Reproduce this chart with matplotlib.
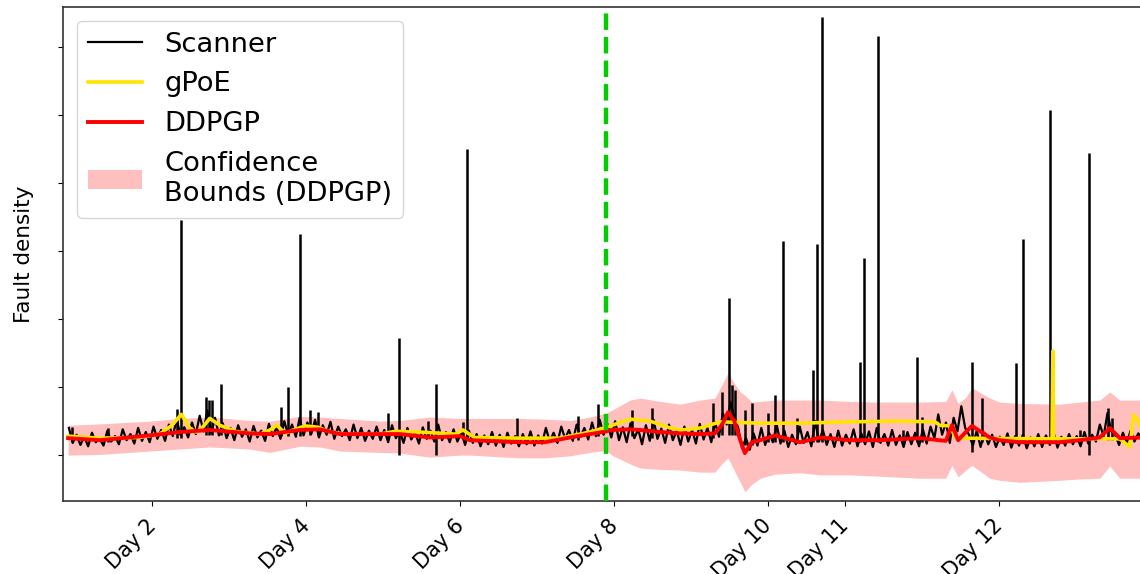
import numpy as np
import matplotlib
matplotlib.use('Agg')
import matplotlib.pyplot as plt
from matplotlib.transforms import ScaledTranslation

# 扫描仪原始读数（每天约20个采样点，从0.92天到14.86天）
scanner_vals = [
    0.40, 0.18, 0.30, 0.15, 0.27, 0.13, 0.33, 0.19, 0.24, 0.14, 0.36, 0.20, 0.28, 0.16, 0.38, 0.22, 0.31, 0.17, 0.40, 0.21,
    0.34, 0.19, 0.42, 0.24, 0.37, 0.21, 0.45, 0.28, 0.52, 0.30, 0.41, 0.26, 0.48, 0.31, 0.58, 0.35, 0.66, 0.33, 0.55, 0.29,
    0.47, 0.25, 0.40, 0.22, 0.44, 0.27, 0.38, 0.20, 0.43, 0.26, 0.36, 0.21, 0.46, 0.28, 0.41, 0.24, 0.50, 0.30, 0.45, 0.27,
    0.55, 0.29, 0.48, 0.31, 0.52, 0.26, 0.44, 0.30, 0.49, 0.24, 0.42, 0.28, 0.38, 0.22, 0.45, 0.25, 0.40, 0.21, 0.36, 0.24,
    0.42, 0.22, 0.37, 0.19, 0.44, 0.25, 0.35, 0.18, 0.40, 0.23, 0.33, 0.17, 0.41, 0.24, 0.36, 0.20, 0.45, 0.22, 0.34, 0.19,
    0.38, 0.20, 0.33, 0.15, 0.36, 0.18, 0.31, 0.13, 0.29, 0.16, 0.34, 0.14, 0.30, 0.12, 0.33, 0.17, 0.28, 0.13, 0.31, 0.16,
    0.35, 0.14, 0.29, 0.17, 0.40, 0.20, 0.33, 0.18, 0.42, 0.24, 0.37, 0.21, 0.45, 0.27, 0.40, 0.23, 0.48, 0.28, 0.52, 0.30,
    0.46, 0.26, 0.50, 0.22, 0.41, 0.19, 0.47, 0.25, 0.38, 0.16, 0.44, 0.21, 0.52, 0.24, 0.39, 0.18, 0.45, 0.22, 0.36, 0.15,
    0.42, 0.20, 0.37, 0.17, 0.46, 0.23, 0.40, 0.19, 0.48, 0.27, 0.62, 0.45, 0.78, 0.55, 0.40, 0.10, 0.25, 0.08, 0.32, 0.14,
    0.40, 0.15, 0.33, 0.19, 0.45, 0.17, 0.36, 0.12, 0.30, 0.16, 0.42, 0.18, 0.34, 0.13, 0.50, 0.20, 0.37, 0.15, 0.31, 0.12,
    0.36, 0.14, 0.30, 0.17, 0.38, 0.13, 0.32, 0.16, 0.35, 0.12, 0.40, 0.18, 0.31, 0.14, 0.37, 0.15, 0.29, 0.12, 0.34, 0.16,
    0.33, 0.13, 0.38, 0.17, 0.42, 0.25, 0.60, 0.30, 0.48, 0.18, 0.55, 0.35, 0.72, 0.40, 0.30, 0.14, 0.36, 0.12, 0.33, 0.16,
    0.30, 0.12, 0.27, 0.15, 0.32, 0.11, 0.28, 0.14, 0.30, 0.10, 0.26, 0.13, 0.31, 0.12, 0.29, 0.15, 0.33, 0.11, 0.27, 0.14,
    0.31, 0.16, 0.28, 0.13, 0.34, 0.17, 0.30, 0.20, 0.45, 0.28, 0.62, 0.35, 0.30, 0.15, 0.33, 0.18, 0.36, 0.20, 0.32, 0.24,
]
scanner_days = np.linspace(0.92, 14.86, len(scanner_vals))

# 扫描仪尖峰（时间、峰值、谷值）
spike_days = [0.96, 1.43, 2.32, 2.38, 2.70, 2.74, 2.78, 2.90, 3.68, 3.77, 3.92, 4.05, 4.16,
              5.06, 5.21, 5.58, 5.69, 6.04, 6.09, 6.74, 7.53, 7.79, 8.23, 8.49, 9.29, 9.40,
              9.49, 9.53, 9.57, 9.70, 9.79, 10.00, 10.09, 10.19, 10.38, 10.58, 10.64, 10.70,
              11.19, 11.25, 11.43, 11.75, 11.94, 12.00, 12.65, 12.78, 13.22, 13.31, 13.66,
              14.05, 14.17, 14.42, 14.47]
spike_tops = [0.41, 0.40, 0.68, 3.46, 0.85, 0.81, 0.81, 1.04, 0.71, 1.00, 3.26, 0.66, 0.63,
              0.62, 1.72, 0.50, 1.04, 0.49, 4.51, 0.54, 0.57, 0.75, 0.66, 0.69, 0.76, 0.93,
              2.31, 1.03, 0.96, 0.66, 0.76, 0.62, 0.88, 3.15, 0.54, 1.25, 3.10, 6.44,
              1.37, 2.90, 6.16, 0.37, 1.44, 0.56, 1.37, 0.84, 1.35, 3.18, 5.07,
              0.37, 4.44, 0.69, 0.54]
spike_lows = [0.20, 0.20, 0.25, 0.25, 0.30, 0.30, 0.30, 0.30, 0.28, 0.28, 0.28, 0.30, 0.30,
              0.25, 0.00, 0.25, 0.00, 0.25, 0.25, 0.18, 0.22, 0.28, 0.28, 0.25, 0.25, 0.30,
              0.30, 0.30, 0.30, 0.15, 0.15, 0.20, 0.20, 0.20, 0.18, 0.20, 0.20, 0.20,
              0.20, 0.20, 0.20, 0.20, 0.20, 0.20, 0.05, 0.20, 0.18, 0.18, 0.18,
              0.18, 0.00, 0.22, 0.22]

# DDPGP 均值及置信区间
ddpgp_days = [0.91, 1.32, 1.97, 2.36, 2.75, 3.27, 3.53, 3.92, 4.18, 4.44, 4.96, 5.22, 5.61,
              6.00, 6.13, 6.78, 7.10, 7.43, 7.69, 7.90, 7.97, 8.21, 8.34, 8.60, 8.86, 9.12,
              9.31, 9.40, 9.48, 9.56, 9.64, 9.70, 9.79, 9.90, 10.09, 10.42, 10.68, 11.06,
              11.45, 11.97, 12.31, 12.39, 12.47, 12.57, 12.65, 12.88, 13.01, 13.27, 13.79,
              14.05, 14.31, 14.44, 14.57, 14.90]
ddpgp_mean = [0.25, 0.22, 0.29, 0.34, 0.37, 0.32, 0.31, 0.37, 0.38, 0.31, 0.31, 0.31, 0.26,
              0.28, 0.22, 0.19, 0.19, 0.26, 0.31, 0.35, 0.37, 0.38, 0.37, 0.34, 0.32, 0.31,
              0.32, 0.44, 0.63, 0.51, 0.22, 0.03, 0.19, 0.22, 0.29, 0.19, 0.26, 0.22,
              0.22, 0.25, 0.21, 0.44, 0.22, 0.34, 0.43, 0.26, 0.22, 0.19, 0.19,
              0.22, 0.26, 0.40, 0.25, 0.26]
ddpgp_upper = [0.44, 0.46, 0.50, 0.54, 0.56, 0.51, 0.50, 0.57, 0.56, 0.54, 0.50, 0.51, 0.56,
               0.54, 0.54, 0.54, 0.53, 0.51, 0.56, 0.62, 0.66, 0.81, 0.84, 0.79, 0.75, 0.81,
               0.84, 1.03, 1.21, 1.06, 0.93, 0.88, 0.78, 0.79, 0.81, 0.81, 0.81, 0.79,
               0.78, 0.78, 0.79, 0.96, 0.76, 0.85, 0.99, 0.84, 0.78, 0.76, 0.75,
               0.78, 0.81, 0.93, 0.81, 0.81]
ddpgp_lower = [0.00, 0.01, 0.06, 0.09, 0.12, 0.09, 0.04, 0.13, 0.12, 0.06, 0.04, 0.03, -0.03,
               0.00, 0.00, -0.04, -0.04, -0.01, 0.04, 0.07, 0.00, -0.13, -0.19, -0.21, -0.22, -0.25,
               -0.25, -0.13, -0.04, -0.22, -0.40, -0.54, -0.43, -0.34, -0.28, -0.26, -0.29, -0.29,
               -0.31, -0.34, -0.34, -0.15, -0.32, -0.22, -0.15, -0.34, -0.37, -0.40, -0.37,
               -0.35, -0.34, -0.16, -0.34, -0.34]

# gPoE 预测
gpoe_days = [0.91, 1.32, 1.84, 2.10, 2.26, 2.38, 2.49, 2.57, 2.65, 2.75, 2.88, 3.08, 3.40,
             3.53, 3.62, 3.73, 3.86, 3.99, 4.16, 4.31, 4.51, 4.96, 5.16, 5.48, 5.94, 6.04,
             6.19, 6.78, 7.30, 7.69, 7.90, 8.21, 8.47, 8.73, 8.88, 9.12, 9.38, 9.90, 10.42,
             11.06, 11.71, 12.17, 12.23, 12.36, 12.44, 13.69, 13.70, 13.71, 14.57, 14.70,
             14.75, 14.81, 14.90]
gpoe_vals = [0.28, 0.25, 0.26, 0.31, 0.44, 0.60, 0.40, 0.34, 0.40, 0.54, 0.44, 0.35, 0.31,
             0.37, 0.44, 0.32, 0.38, 0.43, 0.41, 0.34, 0.31, 0.31, 0.35, 0.34, 0.31, 0.37,
             0.26, 0.25, 0.25, 0.34, 0.41, 0.53, 0.50, 0.40, 0.37, 0.40, 0.49, 0.47, 0.47,
             0.49, 0.50, 0.49, 0.44, 0.43, 0.25, 0.24, 1.53, 0.24, 0.24, 0.12,
             0.59, 0.51, 0.22]

tick_days = [2, 4, 6, 8, 10, 11, 13]
tick_labels = ['Day 2', 'Day 4', 'Day 6', 'Day 8', 'Day 10', 'Day 11', 'Day 12']
split_day = 7.90

fig = plt.figure(figsize=(11.4, 5.74), dpi=100)
ax = fig.add_axes([0.0553, 0.127, 0.949, 0.8606])

ax.fill_between(ddpgp_days, ddpgp_lower, ddpgp_upper, color='red', alpha=0.25, lw=0,
                label='Confidence\nBounds (DDPGP)', zorder=1)
ax.plot(scanner_days, scanner_vals, color='black', lw=1.6, label='Scanner', zorder=2)
ax.vlines(spike_days, spike_lows, spike_tops, color='black', lw=1.8, zorder=2)
ax.plot(gpoe_days, gpoe_vals, color='#FFE400', lw=2.6, label='gPoE', zorder=3)
ax.plot(ddpgp_days, ddpgp_mean, color='#FF0000', lw=2.8, label='DDPGP', zorder=4)
ax.axvline(split_day, color='#00CC00', ls='--', lw=3.2, zorder=5)

ax.set_xlim(0.844, 14.896)
ax.set_ylim(-0.676, 6.59)
ax.set_yticks(range(0, 7))
ax.set_yticklabels([])
ax.set_xticks(tick_days)
ax.set_xticklabels(tick_labels, rotation=45, ha='right', fontsize=15)
shift = ScaledTranslation(8 / 100, -5 / 100, fig.dpi_scale_trans)
for lab in ax.get_xticklabels():
    lab.set_transform(lab.get_transform() + shift)
ax.set_ylabel('Fault density', fontsize=15.5, labelpad=14)
for s in ax.spines.values():
    s.set_color('#333333')
    s.set_linewidth(1.2)

handles, labels = ax.get_legend_handles_labels()
order = [labels.index(k) for k in ['Scanner', 'gPoE', 'DDPGP', 'Confidence\nBounds (DDPGP)']]
ax.legend([handles[i] for i in order], [labels[i] for i in order], loc='upper left', fontsize=19.7)

fig.savefig('out.png', dpi=100)
